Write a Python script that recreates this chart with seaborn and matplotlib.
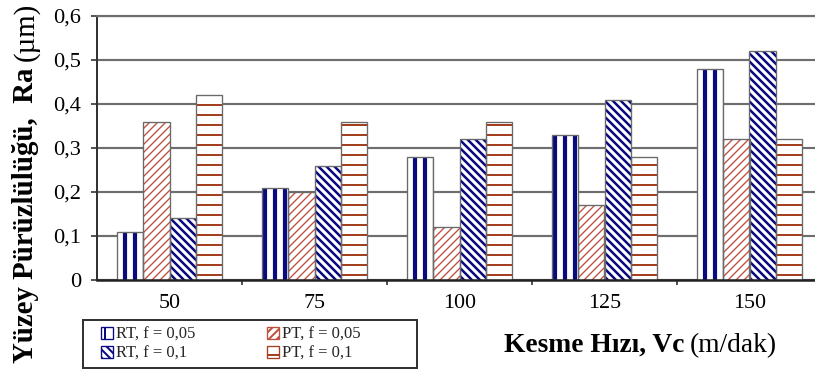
import matplotlib
matplotlib.use("Agg")
import matplotlib.pyplot as plt
import seaborn as sns
import pandas as pd
from matplotlib.patches import Rectangle, Patch
from matplotlib.ticker import FuncFormatter, FixedLocator

# ---- data ----
speeds = ["50", "75", "100", "125", "150"]
series = ["RT, f = 0,05", "PT, f = 0,05", "RT, f = 0,1", "PT, f = 0,1"]
rt_005 = [0.11, 0.21, 0.28, 0.33, 0.48]
pt_005 = [0.36, 0.20, 0.12, 0.17, 0.32]
rt_01 = [0.14, 0.26, 0.32, 0.41, 0.52]
pt_01 = [0.42, 0.36, 0.36, 0.28, 0.32]
y_ticks = [0.0, 0.1, 0.2, 0.3, 0.4, 0.5, 0.6]

values = {series[0]: rt_005, series[1]: pt_005, series[2]: rt_01, series[3]: pt_01}
rows = []
for s in series:
    for sp, v in zip(speeds, values[s]):
        rows.append({"speed": sp, "series": s, "value": v})
df = pd.DataFrame(rows)

# ---- styles ----
NAVY = "#0a0a80"
RED = "#bf5040"
BROWN = "#a3401f"
BS = chr(92)
styles = {
    series[0]: dict(hatch="||", color=NAVY, hlw=2.5),
    series[1]: dict(hatch="/" * 5, color=RED, hlw=0.8),
    series[2]: dict(hatch=BS * 5, color=NAVY, hlw=1.5),
    series[3]: dict(hatch="--", color=BROWN, hlw=1.2),
}

sns.set_theme(style="white")
plt.rcParams["font.family"] = ["Liberation Serif", "DejaVu Serif"]
plt.rcParams["hatch.linewidth"] = 1.2

W, H, DPI = 815, 369, 120
fig = plt.figure(figsize=(W / DPI, H / DPI), dpi=DPI)
ax = fig.add_axes([97 / W, 89 / H, (W - 97) / W, 264 / H])

sns.barplot(data=df, x="speed", y="value", hue="series", order=speeds,
            hue_order=series, palette=["white"] * 4, saturation=1,
            width=0.73, linewidth=0, legend=False, ax=ax, errorbar=None)

for cont, s in zip(ax.containers, series):
    st = styles[s]
    for bar in cont:
        bar.set_hatch(st["hatch"])
        bar.set_edgecolor(st["color"])
        bar.set_linewidth(0)
        if hasattr(bar, "set_hatch_linewidth"):
            bar.set_hatch_linewidth(st["hlw"])
        ol = Rectangle(bar.get_xy(), bar.get_width(), bar.get_height(),
                       fill=False, edgecolor="#6a6a6a", linewidth=0.8, zorder=bar.get_zorder() + 0.1)
        ax.add_patch(ol)

ax.set_xlim(-0.5, -0.5 + (W - 97) / 145)
ax.set_ylim(0, 0.6)
ax.yaxis.set_major_locator(FixedLocator(y_ticks))
ax.yaxis.set_major_formatter(FuncFormatter(lambda v, p: "0" if abs(v) < 1e-9 else f"{v:.1f}".replace(".", ",")))
ax.yaxis.grid(True, color="#6e6e6e", linewidth=1.3)
ax.set_axisbelow(True)

ax.set_xticks(range(len(speeds)))
ax.set_xticklabels(speeds)
ax.set_xticks([i + 0.5 for i in range(len(speeds) - 1)], minor=True)
ax.tick_params(axis="x", which="major", length=0, pad=8.5, labelsize=13.2, labelcolor="black")
ax.tick_params(axis="x", which="minor", length=3, width=1, color="#333333", direction="out", bottom=True)
ax.tick_params(axis="y", which="major", length=3.5, width=1, color="#333333", direction="out",
               left=True, pad=6, labelsize=13.4, labelcolor="black")
ax.set_xlabel("")
ax.set_ylabel("")

ax.spines["right"].set_visible(False)
ax.spines["top"].set_color("#6e6e6e")
ax.spines["top"].set_linewidth(1.3)
ax.spines["left"].set_color("#333333")
ax.spines["left"].set_linewidth(1.2)
ax.spines["bottom"].set_color("#222222")
ax.spines["bottom"].set_linewidth(1.5)

# ---- axis labels with mixed weights ----
fig.canvas.draw()
r = fig.canvas.get_renderer()
inv = fig.transFigure.inverted()

y1 = fig.text(33 / W, 1 - 363 / H, "Yüzey Pürüzlülüğü,  Ra", rotation=90, rotation_mode="anchor",
              ha="left", va="baseline", fontsize=17.3, fontweight="bold", color="black")
bb = y1.get_window_extent(r)
top = inv.transform((0, bb.y1))[1]
fig.text(33 / W, top + 7 / H, "(µm)", rotation=90, rotation_mode="anchor",
         ha="left", va="baseline", fontsize=17.3, color="black")

x2 = fig.text(777 / W, 1 - 352 / H, "(m/dak)", ha="right", va="baseline", fontsize=16.5, color="black")
bb2 = x2.get_window_extent(r)
left = inv.transform((bb2.x0, 0))[0]
fig.text(left - 6 / W, 1 - 352 / H, "Kesme Hızı, Vc", ha="right", va="baseline",
         fontsize=16.5, fontweight="bold", color="black")

# ---- legend ----
order = [series[0], series[2], series[1], series[3]]
handles = []
for s in order:
    st = styles[s]
    p = Patch(facecolor="white", edgecolor=st["color"], hatch=st["hatch"], linewidth=0.8)
    if hasattr(p, "set_hatch_linewidth"):
        p.set_hatch_linewidth(st["hlw"])
    handles.append(p)
fig.legend(handles, order, loc="upper left", bbox_to_anchor=(101 / W, 1 - 327 / H), ncol=2,
           frameon=False, fontsize=10, handlelength=0.7, handleheight=0.7, handletextpad=0.2,
           columnspacing=4.3, labelspacing=0.15, borderpad=0, borderaxespad=0)
fig.patches.append(Rectangle((83 / W, 1 - 368 / H), (417 - 83) / W, (368 - 320) / H,
                             transform=fig.transFigure, fill=False, edgecolor="#333333", linewidth=1.2))

fig.savefig("out.png", dpi=DPI)
